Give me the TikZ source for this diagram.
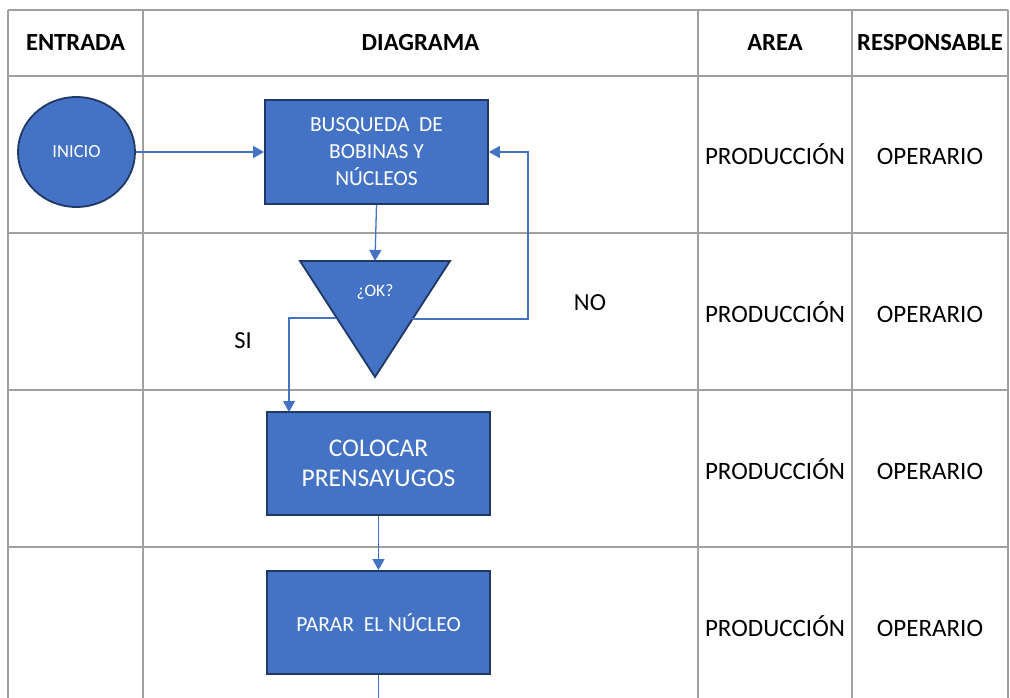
\documentclass[tikz,border=0pt]{standalone}
\usepackage{fontspec}
\setmainfont{Carlito}
\usetikzlibrary{arrows.meta,shapes.geometric}
\definecolor{boxblue}{HTML}{4472C4}
\definecolor{boxedge}{HTML}{1F3864}
\definecolor{gridgray}{HTML}{A0A0A0}
\begin{document}
\begin{tikzpicture}[x=1pt,y=-1pt,
  grid/.style={draw=gridgray,line width=1.5pt},
  proc/.style={draw=boxedge,fill=boxblue,line width=1.8pt,text=white,align=center,inner sep=0pt,minimum width=223pt,minimum height=103pt},
  conn/.style={draw=boxblue,line width=1.3pt,-{Triangle[length=11pt,width=12pt]}},
  plainconn/.style={draw=boxblue,line width=1.3pt},
  head/.style={font=\fontsize{24.6}{29}\selectfont\bfseries},
  cell/.style={font=\fontsize{25}{30}\selectfont,anchor=base},
  lbl/.style={font=\fontsize{24.5}{29}\selectfont}]
\fill[white] (0,0) rectangle (1010,698);
\useasboundingbox (0,0) rectangle (1010,698);
% table grid
\foreach \yy in {10,76,233,390,547} \draw[grid] (8,\yy) -- (1008,\yy);
\foreach \xx in {8,143,698,852,1008} \draw[grid] (\xx,10) -- (\xx,698);
% headers
\node[head] (hEntrada) at (75.5,43) {ENTRADA};
\node[head] (hDiagrama) at (420.5,43) {DIAGRAMA};
\node[head] (hArea) at (775,43) {AREA};
\node[head] (hResp) at (930,43) {RESPONSABLE};
% area / responsable cells
\foreach \yy/\nm in {165/a,322/b,479/c,636/d}{
  \node[cell] (area\nm) at (775,\yy) {PRODUCCIÓN};
  \node[cell] (resp\nm) at (930,\yy) {OPERARIO};
}
% flow shapes
\node[ellipse,draw=boxedge,fill=boxblue,line width=1.8pt,minimum width=117pt,minimum height=110pt,inner sep=0pt,text=white,font=\fontsize{18.5}{21}\selectfont] (inicio) at (76.5,152) {INICIO};
\node[proc,minimum height=104pt,font=\fontsize{21.5}{27}\selectfont] (b1) at (376.5,152) {BUSQUEDA~~DE\\BOBINAS Y\\NÚCLEOS};
\node[proc,font=\fontsize{25.5}{30}\selectfont] (b2) at (378.5,463.5) {COLOCAR\\PRENSAYUGOS};
\node[proc,font=\fontsize{21.5}{27}\selectfont] (b3) at (378.5,622.5) {PARAR~~EL NÚCLEO};
% decision triangle
\coordinate (tl) at (300,261);
\coordinate (tr) at (450,261);
\coordinate (tb) at (375,377);
\coordinate (tritop) at (375,261);
\coordinate (trileft) at (336,318);
\coordinate (triright) at (412,319);
\filldraw[draw=boxedge,fill=boxblue,line width=1.8pt,line join=miter] (tl) -- (tr) -- (tb) -- cycle;
\node[text=white,font=\fontsize{17.5}{20}\selectfont] (ok) at (375,292) {¿OK?};
% connectors
\coordinate (nocorner) at (528,319);
\coordinate (siend) at (289,412);
\coordinate (bottomend) at (378.5,698);
\draw[conn] (inicio.east) -- (b1.west);
\draw[conn] (b1.south) -- (tritop);
\draw[conn] (triright) -- (nocorner) |- (b1.east);
\draw[conn] (trileft) -| (siend);
\draw[conn] (b2.south) -- (b3.north);
\draw[plainconn] (b3.south) -- (bottomend);
% labels
\node[lbl] (no) at (590,303) {NO};
\node[lbl] (si) at (243,341) {SI};
\end{tikzpicture}
\end{document}
